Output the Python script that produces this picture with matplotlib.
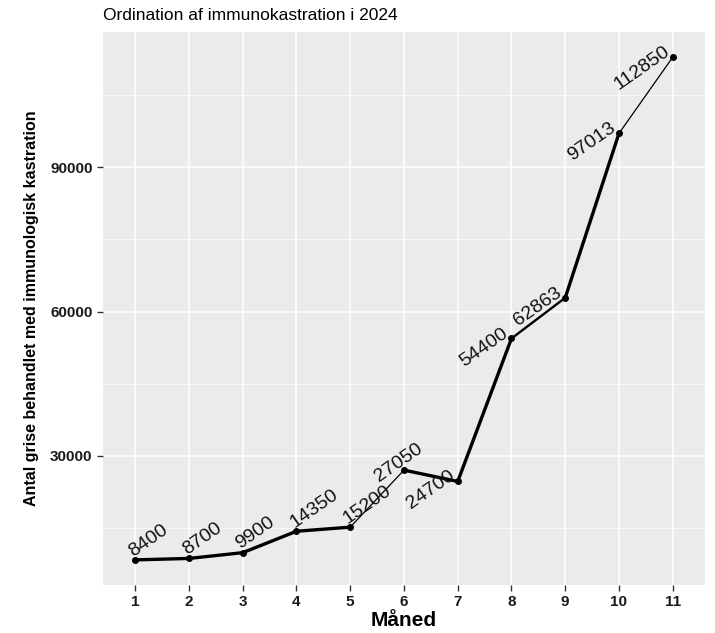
import matplotlib
matplotlib.use('Agg')
from matplotlib import pyplot as plt

months = [1, 2, 3, 4, 5, 6, 7, 8, 9, 10, 11]
counts = [8400, 8700, 9900, 14350, 15200, 27050, 24700, 54400, 62863, 97013, 112850]
title = 'Ordination af immunokastration i 2024'
xlabel = 'Måned'
ylabel = 'Antal grise behandlet med immunologisk kastration'

# styling per segment / label (looks uneven in the source picture)
seg_widths = [2.4, 2.4, 2.4, 2.4, 0.9, 2.4, 2.4, 1.7, 2.4, 0.9]
label_ha = ['left'] * 5 + ['center'] + ['right'] * 5

plt.rcParams['font.family'] = ['Liberation Sans', 'DejaVu Sans']

fig = plt.figure(figsize=(7.15, 6.33), dpi=100)
ax = fig.add_axes([0.144, 0.0758, 0.842, 0.8736])
ax.set_facecolor('#EBEBEB')
for s in ax.spines.values():
    s.set_visible(False)

lo, hi = min(counts), max(counts)
pad = (hi - lo) * 0.05
ax.set_ylim(lo - pad, hi + pad)
ax.set_xlim(0.4, 11.6)
ax.set_xticks(months)
ax.set_yticks([30000, 60000, 90000])
ax.set_yticks([15000, 45000, 75000, 105000], minor=True)
ax.grid(True, which='major', color='white', linewidth=1.1)
ax.grid(True, which='minor', axis='y', color='white', linewidth=0.5)
ax.set_axisbelow(True)
ax.tick_params(which='minor', length=0)
ax.tick_params(which='major', length=4, color='#333333', width=1)
for lab in ax.get_xticklabels() + ax.get_yticklabels():
    lab.set_fontweight('bold')
    lab.set_fontsize(11)
    lab.set_color('#1a1a1a')

for i in range(len(months) - 1):
    ax.plot(months[i:i + 2], counts[i:i + 2], color='black', lw=seg_widths[i],
            solid_capstyle='round', zorder=3)
ax.scatter(months, counts, s=16, color='black', zorder=4)

for m, c, ha in zip(months, counts, label_ha):
    ax.text(m, c, str(c), rotation=35, rotation_mode='anchor', ha=ha, va='bottom',
            fontsize=14, color='#111111', zorder=5)

ax.set_title(title, loc='left', fontsize=12.5, pad=9)
ax.set_xlabel(xlabel, fontsize=15, fontweight='bold', labelpad=1)
ax.set_ylabel(ylabel, fontsize=11.5, fontweight='bold', labelpad=8)

plt.savefig('out.png', dpi=100)
